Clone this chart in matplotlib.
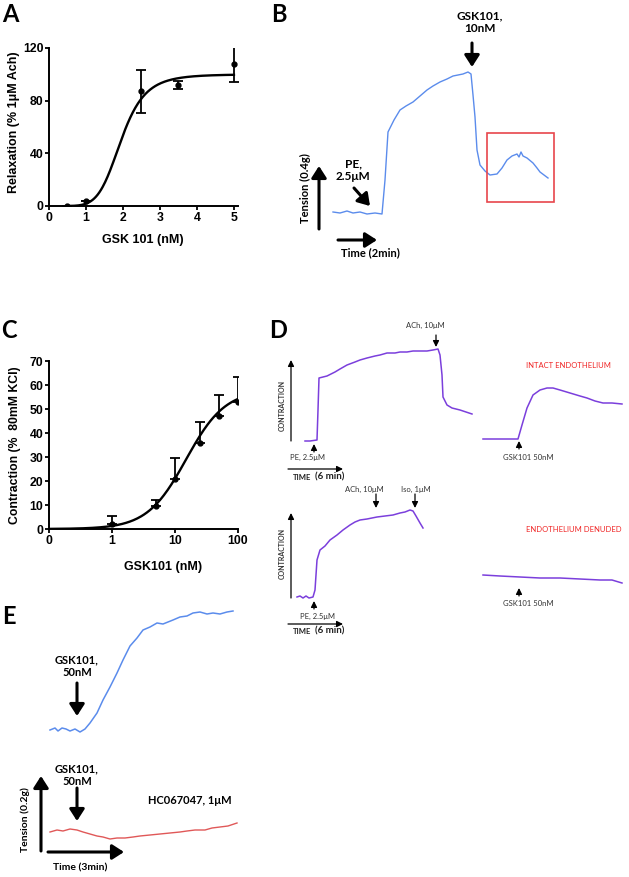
import numpy as np
import matplotlib
matplotlib.use("Agg")
import matplotlib.pyplot as plt
from matplotlib.patches import Rectangle

plt.rcParams['font.family'] = ['Liberation Sans', 'DejaVu Sans']
plt.rcParams['font.weight'] = 'bold'

W, H = 629, 877

# ----------------- Panel A data -----------------
a_dose = [0.5, 1, 2.5, 3.5, 5]
a_relax = [0, 4, 87, 92, 108]
a_err = [0, 0, 16, 3, 14]
a_top, a_ec50, a_hill = 100, 1.95, 6.0

# ----------------- Panel C data -----------------
c_dose = [1, 5, 10, 25, 50, 100]
c_contr = [2, 9.5, 21, 36, 47, 53]
c_err = [3.5, 2.5, 8.5, 8.7, 8.8, 10.2]
c_top, c_ec50, c_hill = 58, 15.0, 1.4
c_ticks = [0.1, 1, 10, 100]
c_ticklabels = ['0', '1', '10', '100']

# ----------------- Traces (time, tension in arbitrary units) -----------------
b_time = [0, 7, 14, 20, 27, 34, 42, 49, 52, 55, 61, 67, 73, 80, 87, 94, 100, 107, 114, 120, 125,
          130, 135, 138, 140, 142, 144, 147, 152, 157, 164, 169, 174, 179, 184, 186, 188, 190,
          194, 200, 204, 207, 211, 215]
b_tension = [2, 1, 3, 1, 2, 0, 1, 0, 34, 82, 94, 104, 108, 112, 118, 124, 128, 132, 135, 138, 139,
             140, 142, 140, 119, 97, 64, 49, 43, 39, 40, 46, 54, 58, 60, 57, 62, 58, 56, 51, 46,
             42, 39, 36]

d1_time = [0, 5, 12, 13, 14, 18, 22, 30, 35, 42, 50, 55, 62, 70, 75, 82, 90, 95, 102, 108, 115,
           122, 128, 133, 135, 137, 138, 142, 147, 155, 161, 167]
d1_tension = [0, 0, 1, 31, 63, 64, 65, 69, 72, 76, 79, 81, 83, 85, 86, 88, 88, 89, 89, 90, 90,
              90, 91, 92, 86, 66, 44, 36, 33, 31, 29, 27]

d2_time = [0, 3, 6, 9, 12, 16, 18, 20, 23, 28, 33, 40, 46, 53, 58, 63, 70, 80, 88, 96, 103, 108,
           113, 116, 119, 123, 126]
d2_tension = [1, 2, 0, 2, 0, 1, 8, 38, 48, 52, 58, 63, 68, 73, 76, 78, 79, 81, 82, 83, 85, 86,
              88, 87, 82, 75, 70]

d3_time = [0, 17, 27, 35, 39, 44, 50, 57, 64, 70, 77, 87, 97, 104, 112, 120, 129, 139]
d3_tension = [0, 0, 0, 0, 14, 31, 44, 49, 51, 51, 49, 46, 43, 41, 38, 36, 36, 35]

d4_time = [0, 17, 37, 57, 77, 97, 117, 129, 139]
d4_tension = [8, 7, 6, 5, 5, 4, 3, 3, 0]

e1_time = [0, 5, 8, 12, 16, 20, 25, 30, 35, 40, 47, 53, 60, 67, 73, 80, 87, 93, 100, 107, 113,
           123, 130, 137, 143, 150, 157, 163, 170, 177, 183]
e1_tension = [2, 4, 1, 4, 3, 1, 3, 0, 3, 9, 19, 32, 45, 59, 72, 86, 94, 102, 105, 109, 108, 112,
              115, 116, 119, 120, 118, 119, 118, 120, 121]

e2_time = [0, 7, 13, 20, 27, 33, 40, 47, 53, 60, 67, 75, 83, 90, 100, 110, 120, 130, 137, 145,
           155, 162, 170, 178, 187]
e2_tension = [7, 9, 8, 10, 9, 7, 5, 3, 2, 0, 1, 1, 2, 3, 4, 5, 6, 7, 8, 9, 9, 11, 12, 13, 16]

BLUE = '#5b8cec'
PURPLE = '#7b3fdc'
RED = '#e05858'

fig = plt.figure(figsize=(W / 100, H / 100), dpi=100)


def px_axes(left, top, right, bottom):
    return fig.add_axes([left / W, 1 - bottom / H, (right - left) / W, (bottom - top) / H])


def style_axes(ax):
    for s in ['top', 'right']:
        ax.spines[s].set_visible(False)
    for s in ['left', 'bottom']:
        ax.spines[s].set_linewidth(1.4)
    ax.tick_params(direction='out', length=3, width=1.3, labelsize=8.8, pad=1)


# ----------------- Panel A -----------------
axA = px_axes(49, 48, 238, 206)
xs = np.linspace(0.5, 5, 200)
axA.plot(xs, a_top * xs ** a_hill / (xs ** a_hill + a_ec50 ** a_hill), color='black', lw=1.7)
axA.errorbar(a_dose, a_relax, yerr=a_err, fmt='o', color='black', ms=3.5, capsize=3.5,
             elinewidth=1.3, capthick=1.3)
axA.set_xlim(0, 5.11)
axA.set_ylim(0, 120)
axA.set_xticks([0, 1, 2, 3, 4, 5])
axA.set_yticks([0, 40, 80, 120])
style_axes(axA)

# ----------------- Panel C -----------------
axC = px_axes(49, 361, 238, 529)
xc = np.logspace(-1, 2, 200)
axC.plot(xc, c_top * xc ** c_hill / (xc ** c_hill + c_ec50 ** c_hill), color='black', lw=1.7)
axC.errorbar(c_dose, c_contr, yerr=[np.zeros(len(c_err)), c_err], fmt='o', color='black',
             ms=3.5, capsize=3.5, elinewidth=1.3, capthick=1.3)
axC.set_xscale('log')
axC.set_xlim(0.1, 100)
axC.set_ylim(0, 70)
axC.set_xticks(c_ticks)
axC.set_xticklabels(c_ticklabels)
axC.xaxis.set_minor_locator(matplotlib.ticker.NullLocator())
axC.set_yticks(range(0, 71, 10))
style_axes(axC)


# ----------------- Traces -----------------
def trace(t, h, left, base, color, lw=1.0):
    ax = fig.add_axes([left / W, 1 - base / H, max(t) / W, max(h) / H])
    ax.plot(t, h, color=color, lw=lw, clip_on=False)
    ax.set_xlim(0, max(t))
    ax.set_ylim(0, max(h))
    ax.axis('off')
    return ax


trace(b_time, b_tension, 333, 214, BLUE, 1.0)
trace(d1_time, d1_tension, 305, 441, PURPLE, 1.1)
trace(d2_time, d2_tension, 297, 598, PURPLE, 1.1)
trace(d3_time, d3_tension, 483, 439, PURPLE, 1.1)
trace(d4_time, d4_tension, 483, 583, PURPLE, 1.1)
trace(e1_time, e1_tension, 50, 732, BLUE, 1.1)
trace(e2_time, e2_tension, 50, 839, RED, 1.0)

# ----------------- Overlay for labels and arrows -----------------
ov = fig.add_axes([0, 0, 1, 1])
ov.set_xlim(0, W)
ov.set_ylim(H, 0)
ov.axis('off')

CAL = ['Lato', 'DejaVu Sans']


def arrow(x0, y0, x1, y1, lw=2.2, ms=10, hw=0.45, hl=0.7):
    ov.annotate('', xy=(x1, y1), xytext=(x0, y0),
                arrowprops=dict(arrowstyle=f'-|>,head_width={hw},head_length={hl}',
                                lw=lw, color='black', shrinkA=0, shrinkB=0,
                                mutation_scale=ms))


def small_arrow(x0, y0, x1, y1):
    arrow(x0, y0, x1, y1, lw=0.9, ms=4, hw=0.45, hl=0.9)


# panel letters
for lab, x, y in [('A', 10, 14), ('B', 279, 14), ('C', 9, 331), ('D', 278, 331), ('E', 9, 617)]:
    ov.text(x, y, lab, fontsize=17, fontweight='bold', ha='center', va='center', family=CAL)

# A / C axis labels
ov.text(14, 122, 'Relaxation (% 1\u03bcM Ach)', rotation=90, fontsize=9, ha='center', va='center')
ov.text(143, 240, 'GSK 101 (nM)', fontsize=9, ha='center', va='center')
ov.text(15, 445, 'Contraction (%  80mM KCl)', rotation=90, fontsize=8.8, ha='center',
        va='center')
ov.text(163, 567, 'GSK101 (nM)', fontsize=9, ha='center', va='center')

# B annotations
ov.text(480, 22, 'GSK101,\n10nM', fontsize=8.5, fontweight='bold', ha='center', va='center',
        family=CAL, linespacing=1.2)
arrow(472, 43, 472, 67)
ov.text(353, 170, 'PE,\n2.5\u03bcM', fontsize=8.5, fontweight='bold', ha='center', va='center',
        family=CAL, linespacing=1.2)
arrow(354, 188, 370, 206)
arrow(319, 229, 319, 166)
ov.text(305, 188, 'Tension (0.4g)', rotation=90, fontsize=8, fontweight='bold', ha='center',
        va='center', family=CAL)
arrow(338, 240, 377, 240)
ov.text(370, 253, 'Time (2min)', fontsize=8, fontweight='bold', ha='center', va='center',
        family=CAL)
ov.add_patch(Rectangle((487, 133), 67, 69, fill=False, edgecolor='#e8464c', lw=1.2))

# D annotations
for yb, yt, yc in [(441, 360, 405), (598, 513, 553)]:
    small_arrow(291, yb, 291, yt)
    ov.text(282, yc, 'CONTRACTION', rotation=90, fontsize=5, fontweight='bold', ha='center',
            va='center', family=CAL, color='#333333')
for xa, ya0, ya1, xt, yt in [(314, 452, 444, 308, 457), (314, 609, 601, 317, 616)]:
    small_arrow(xa, ya0, xa, ya1)
    ov.text(xt, yt, 'PE, 2.5\u03bcM', fontsize=5.5, fontweight='normal', ha='center', va='center',
            family=CAL, color='#333333')
for yl, yt in [(469, 477), (624, 631)]:
    small_arrow(288, yl, 343, yl)
    ov.text(293, yt, 'TIME', fontsize=5.5, fontweight='bold', ha='left', va='center',
            family=CAL, color='#222222')
    ov.text(315, yt, '(6 min)', fontsize=7, fontweight='bold', ha='left', va='center',
            family=CAL, color='#222222')
small_arrow(436, 335, 436, 347)
ov.text(425, 325, 'ACh, 10\u03bcM', fontsize=5.5, fontweight='normal', ha='center', va='center',
        family=CAL, color='#333333')
small_arrow(376, 494, 376, 508)
ov.text(364, 489, 'ACh, 10\u03bcM', fontsize=5.5, fontweight='normal', ha='center', va='center',
        family=CAL, color='#333333')
small_arrow(415, 494, 415, 508)
ov.text(416, 489, 'Iso, 1\u03bcM', fontsize=5.5, fontweight='normal', ha='center', va='center',
        family=CAL, color='#333333')
for ya0, ya1, yt in [(449, 441, 457), (596, 588, 603)]:
    small_arrow(519, ya0, 519, ya1)
    ov.text(528, yt, 'GSK101 50nM', fontsize=5.5, fontweight='normal', ha='center', va='center',
            family=CAL, color='#333333')
ov.text(568, 366, 'INTACT ENDOTHELIUM', fontsize=5.5, fontweight='normal', ha='center',
        va='center', family=CAL, color='#f02525')
ov.text(574, 530, 'ENDOTHELIUM DENUDED', fontsize=5.5, fontweight='normal', ha='center',
        va='center', family=CAL, color='#f02525')

# E annotations
for yt, ya0, ya1 in [(666, 683, 716), (775, 788, 821)]:
    ov.text(77, yt, 'GSK101,\n50nM', fontsize=8, fontweight='bold', ha='center', va='center',
            family=CAL, linespacing=1.2)
    arrow(77, ya0, 77, ya1)
ov.text(148, 800, 'HC067047, 1\u03bcM', fontsize=8, fontweight='bold', ha='left', va='center',
        family=CAL)
arrow(41, 851, 41, 776)
ov.text(25, 820, 'Tension (0.2g)', rotation=90, fontsize=7.5, fontweight='bold', ha='center',
        va='center', family=CAL)
arrow(48, 852, 124, 852)
ov.text(80, 868, 'Time (3min)', fontsize=7.5, fontweight='bold', ha='center', va='center',
        family=CAL)

fig.savefig('out.png', dpi=100)
